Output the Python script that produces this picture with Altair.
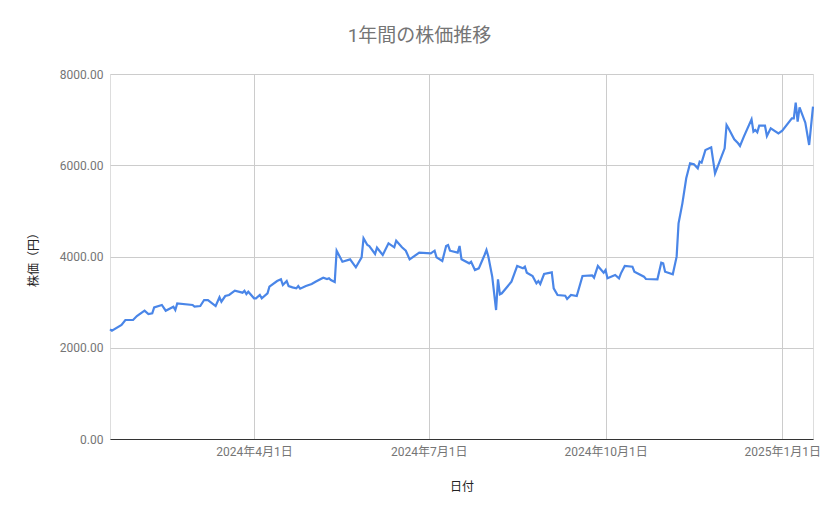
import altair as alt
import pandas as pd

dates = [
    "2024-01-17", "2024-01-18", "2024-01-23", "2024-01-25", "2024-01-29", "2024-01-31",
    "2024-02-04", "2024-02-06", "2024-02-08", "2024-02-09", "2024-02-13", "2024-02-15",
    "2024-02-19", "2024-02-20", "2024-02-21", "2024-02-29", "2024-03-01", "2024-03-04",
    "2024-03-06", "2024-03-08", "2024-03-12", "2024-03-14", "2024-03-15", "2024-03-17",
    "2024-03-19", "2024-03-22", "2024-03-26", "2024-03-27", "2024-03-28", "2024-03-29",
    "2024-04-01", "2024-04-02", "2024-04-04", "2024-04-05", "2024-04-08", "2024-04-09",
    "2024-04-13", "2024-04-15", "2024-04-16", "2024-04-18", "2024-04-19", "2024-04-21",
    "2024-04-23", "2024-04-24", "2024-04-25", "2024-04-28", "2024-05-01", "2024-05-03",
    "2024-05-07", "2024-05-09", "2024-05-10", "2024-05-11", "2024-05-13", "2024-05-14",
    "2024-05-17", "2024-05-21", "2024-05-24", "2024-05-27", "2024-05-28", "2024-05-30",
    "2024-05-31", "2024-06-03", "2024-06-04", "2024-06-07", "2024-06-10", "2024-06-13",
    "2024-06-14", "2024-06-17", "2024-06-19", "2024-06-21", "2024-06-26", "2024-07-02",
    "2024-07-04", "2024-07-05", "2024-07-08", "2024-07-10", "2024-07-11", "2024-07-12",
    "2024-07-16", "2024-07-17", "2024-07-18", "2024-07-22", "2024-07-23", "2024-07-25",
    "2024-07-27", "2024-07-30", "2024-07-31", "2024-08-01", "2024-08-03", "2024-08-05",
    "2024-08-06", "2024-08-07", "2024-08-08", "2024-08-13", "2024-08-16", "2024-08-17",
    "2024-08-19", "2024-08-20", "2024-08-21", "2024-08-24", "2024-08-26", "2024-08-27",
    "2024-08-28", "2024-08-30", "2024-09-03", "2024-09-04", "2024-09-06", "2024-09-10",
    "2024-09-11", "2024-09-13", "2024-09-16", "2024-09-19", "2024-09-24", "2024-09-25",
    "2024-09-27", "2024-09-30", "2024-10-01", "2024-10-02", "2024-10-06", "2024-10-08",
    "2024-10-09", "2024-10-11", "2024-10-15", "2024-10-16", "2024-10-21", "2024-10-22",
    "2024-10-28", "2024-10-30", "2024-10-31", "2024-11-01", "2024-11-05", "2024-11-07",
    "2024-11-08", "2024-11-10", "2024-11-12", "2024-11-14", "2024-11-16", "2024-11-18",
    "2024-11-19", "2024-11-20", "2024-11-22", "2024-11-25", "2024-11-27", "2024-11-30",
    "2024-12-02", "2024-12-03", "2024-12-04", "2024-12-07", "2024-12-09", "2024-12-10",
    "2024-12-12", "2024-12-16", "2024-12-17", "2024-12-18", "2024-12-19", "2024-12-20",
    "2024-12-23", "2024-12-24", "2024-12-26", "2024-12-30", "2025-01-01", "2025-01-06",
    "2025-01-07", "2025-01-08", "2025-01-09", "2025-01-10", "2025-01-13", "2025-01-15",
    "2025-01-17",
]

prices = [
    2404, 2374, 2499, 2608, 2608, 2696,
    2812, 2740, 2754, 2886, 2937, 2812,
    2900, 2827, 2973, 2937, 2900, 2915,
    3046, 3046, 2915, 3105, 3009, 3134,
    3156, 3250, 3207, 3250, 3178, 3229,
    3083, 3083, 3156, 3083, 3193, 3338,
    3463, 3500, 3375, 3463, 3353, 3324,
    3302, 3353, 3295, 3353, 3397, 3448,
    3536, 3507, 3522, 3485, 3441, 4127,
    3886, 3938, 3763, 3982, 4398, 4252,
    4230, 4055, 4193, 4033, 4289, 4201,
    4347, 4201, 4127, 3938, 4084, 4069,
    4127, 3982, 3901, 4230, 4252, 4127,
    4084, 4230, 3938, 3850, 3886, 3704,
    3741, 4033, 4142, 3996, 3558, 2827,
    3500, 3171, 3193, 3448, 3792, 3777,
    3741, 3777, 3646, 3573, 3412, 3463,
    3397, 3616, 3653, 3302, 3156, 3141,
    3068, 3156, 3134, 3573, 3587, 3536,
    3792, 3646, 3704, 3522, 3594, 3522,
    3631, 3792, 3777, 3667, 3558, 3507,
    3500, 3865, 3850, 3667, 3609, 3996,
    4727, 5165, 5714, 6043, 6021, 5933,
    6079, 6057, 6334, 6393, 5823, 6152,
    6371, 6882, 6810, 6568, 6481, 6422,
    6627, 7007, 6736, 6773, 6722, 6867,
    6867, 6641, 6810, 6700, 6758, 7029,
    7029, 7371, 6955, 7269, 6933, 6444,
    7283,
]

tick_dates = [(2024, 4, 1), (2024, 7, 1), (2024, 10, 1), (2025, 1, 1)]
y_ticks = [0, 2000, 4000, 6000, 8000]

df = pd.DataFrame({"日付": dates, "株価": prices})

font = "Roboto, 'Noto Sans CJK JP', sans-serif"

x_axis = alt.Axis(
    values=[alt.DateTime(year=y, month=m, date=d, utc=True) for y, m, d in tick_dates],
    labelExpr="utcFormat(datum.value, '%Y年%-m月%-d日')",
    title="日付",
    titleFont=font, titleFontSize=12, titleFontWeight="normal", titleColor="#222222",
    titlePadding=24,
    labelFont=font, labelFontSize=12, labelColor="#757575", labelPadding=7,
    ticks=False, domain=True, domainColor="#333333", domainWidth=1,
    grid=True, gridColor="#cccccc", gridWidth=1,
)

y_axis = alt.Axis(
    values=y_ticks,
    format=".2f",
    title="株価（円）",
    titleFont=font, titleFontSize=12, titleFontWeight="normal", titleColor="#222222",
    titlePadding=19,
    labelFont=font, labelFontSize=12, labelColor="#757575", labelPadding=7,
    ticks=False, domain=False,
    grid=True, gridColor="#cccccc", gridWidth=1,
)

chart = (
    alt.Chart(df)
    .mark_line(color="#4a86e8", strokeWidth=2.2, interpolate="linear")
    .encode(
        x=alt.X(
            "日付:T",
            axis=x_axis,
            scale=alt.Scale(
                type="utc",
                domain=[
                    alt.DateTime(year=2024, month=1, date=17, utc=True),
                    alt.DateTime(year=2025, month=1, date=17, utc=True),
                ],
                nice=False,
            ),
        ),
        y=alt.Y("株価:Q", axis=y_axis, scale=alt.Scale(domain=[0, 8000], nice=False)),
    )
    .properties(
        width=703,
        height=365,
        padding={"left": 102, "top": 66, "right": 10, "bottom": 60},
        autosize=alt.AutoSizeParams(type="none"),
        title=alt.TitleParams(
            "1年間の株価推移",
            font=font, fontSize=19, fontWeight="normal", color="#757575",
            anchor="middle", dx=-42, offset=22,
        ),
    )
    .configure_view(stroke=None)
    .configure(background="white")
)

chart.save("out.html", embed_options={"renderer": "svg", "actions": False})
